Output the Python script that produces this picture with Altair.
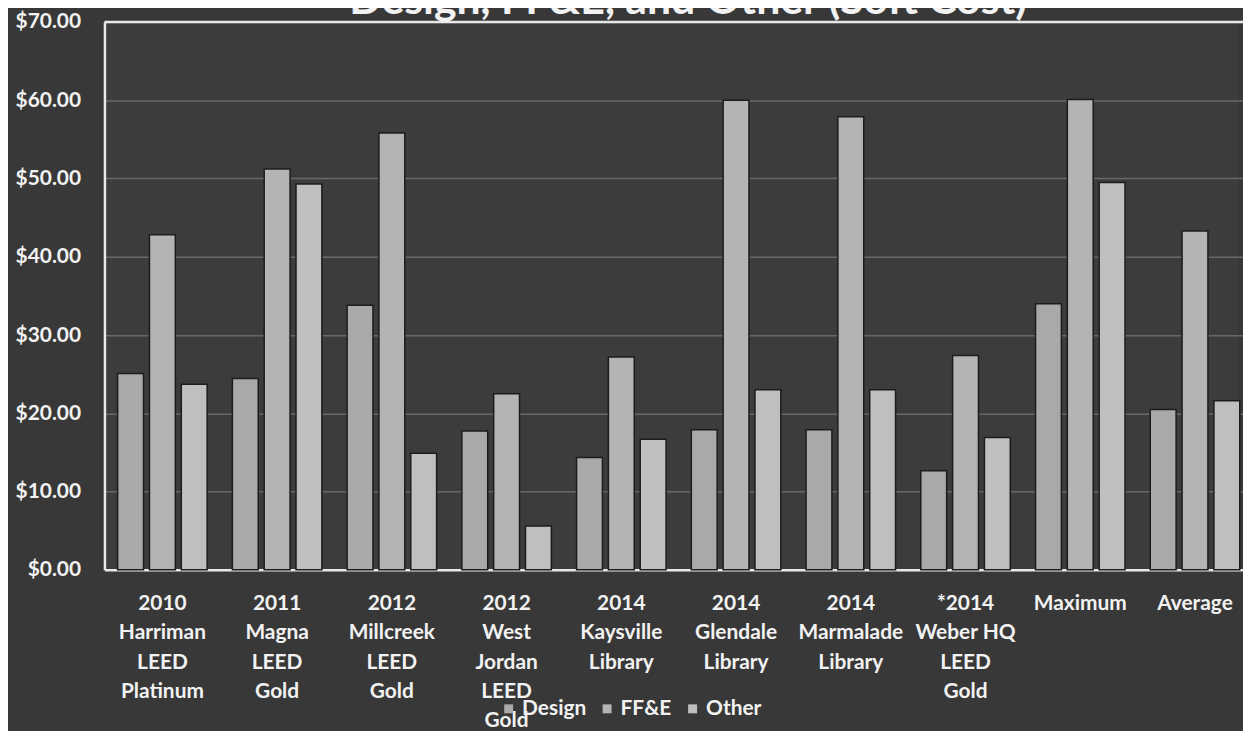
import altair as alt
import pandas as pd

title_text = "Design, FF&E, and Other (Soft Cost)"
categories = [
    "2010|Harriman|LEED|Platinum",
    "2011|Magna|LEED|Gold",
    "2012|Millcreek|LEED|Gold",
    "2012|West|Jordan|LEED|Gold",
    "2014|Kaysville|Library",
    "2014|Glendale|Library",
    "2014|Marmalade|Library",
    "*2014|Weber HQ|LEED|Gold",
    "Maximum",
    "Average",
]
series = ["Design", "FF&E", "Other"]
design = [25.1, 24.45, 33.8, 17.75, 14.35, 17.9, 17.9, 12.66, 34.0, 20.5]
ffe = [42.8, 51.2, 55.8, 22.5, 27.2, 60.0, 57.9, 27.4, 60.1, 43.3]
other = [23.7, 49.3, 14.9, 5.6, 16.7, 23.0, 23.0, 16.9, 49.5, 21.6]
colors = ["#a9a9a9", "#b4b4b4", "#bfbfbf"]

rows = []
for i, c in enumerate(categories):
    for s, vals in zip(series, [design, ffe, other]):
        rows.append({"cat": c, "series": s, "value": vals[i]})
df = pd.DataFrame(rows)

FONT = "Lato"
WHITE = "#f2f2f2"
FS = 21

bars = alt.Chart(df).mark_bar(stroke="#1c1c1c", strokeWidth=1.5).encode(
    x=alt.X(
        "cat:N",
        sort=categories,
        scale=alt.Scale(range=[0, 1155], paddingInner=0.22, paddingOuter=0.115),
        axis=alt.Axis(
            title=None,
            labelAngle=0,
            labelExpr="split(datum.label, '|')",
            labelFont=FONT,
            labelFontSize=FS,
            labelFontWeight="bold",
            labelColor=WHITE,
            labelLineHeight=29.5,
            labelPadding=23,
            ticks=False,
            domain=True,
            domainColor="#e8e8e8",
            domainWidth=2.5,
            grid=False,
            labelBaseline="top",
        ),
    ),
    xOffset=alt.XOffset(
        "series:N",
        sort=series,
        scale=alt.Scale(paddingInner=0.1875, paddingOuter=0),
    ),
    y=alt.Y(
        "value:Q",
        scale=alt.Scale(domain=[0, 70], nice=False),
        axis=alt.Axis(
            title=None,
            values=[0, 10, 20, 30, 40, 50, 60, 70],
            format="$.2f",
            labelFont=FONT,
            labelFontSize=FS,
            labelFontWeight="bold",
            labelColor=WHITE,
            labelPadding=24,
            ticks=False,
            domain=True,
            domainColor="#e8e8e8",
            domainWidth=2.5,
            grid=True,
            gridColor="#686868",
            gridWidth=1.5,
        ),
    ),
    color=alt.Color(
        "series:N",
        sort=series,
        scale=alt.Scale(domain=series, range=colors),
        legend=alt.Legend(
            title=None,
            orient="none",
            direction="horizontal",
            legendX=396,
            legendY=680,
            symbolType="square",
            symbolSize=81,
            symbolStrokeWidth=0,
            labelFont=FONT,
            labelFontSize=FS,
            labelFontWeight="bold",
            labelColor=WHITE,
            labelOffset=3,
            columnPadding=10,
        ),
    ),
)

top_line = alt.Chart(pd.DataFrame({"v": [70]})).mark_rule(
    color="#e8e8e8", strokeWidth=2.5
).encode(y=alt.Y("v:Q"), x=alt.value(0), x2=alt.value(1160))

title = alt.Chart(pd.DataFrame({"t": [title_text]})).mark_text(
    font=FONT, fontSize=43, fontWeight="bold", color=WHITE, align="center", baseline="alphabetic"
).encode(text="t:N", x=alt.value(587), y=alt.value(-8))

chart = alt.layer(bars, top_line, title).properties(
    width=1140,
    height=551,
    autosize=alt.AutoSizeParams(type="none"),
    padding={"left": 97, "top": 12, "right": 5, "bottom": 160},
    background="#383838",
).configure_view(fill="#3c3c3c", stroke=None)

chart.save("out.html", embed_options={"renderer": "svg", "actions": False})
